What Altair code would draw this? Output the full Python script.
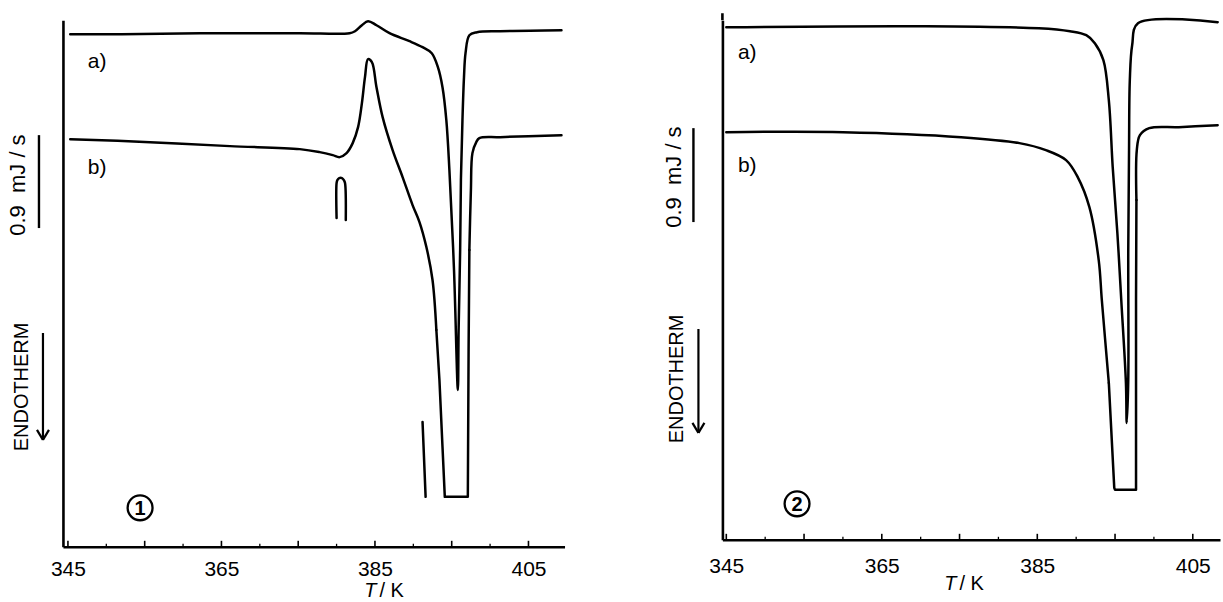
import altair as alt
import pandas as pd

FONT = "Liberation Sans"

# ---------------- Figure 1 (T in K, signal in recorder units; 100 units ~ 0.9 mJ/s) -------------
f1_a_T = [345.3, 352.0, 362.2, 375.2, 381.7, 382.4, 383.3, 384.1, 385.2, 386.9,
          389.5, 391.2, 392.4, 393.2, 393.8, 394.3, 394.7, 395.3, 395.8, 395.9,
          396.1, 396.2, 396.4, 396.6, 396.8, 397.3, 398.3, 401.3, 409.3]
f1_a_V = [513, 513, 514, 514, 514, 516, 522, 526, 522, 514,
          506, 500, 494, 480, 460, 427, 377, 277, 157, 217,
          297, 367, 427, 470, 494, 512, 515, 516, 517]
f1_b_T = [345.3, 355.7, 366.1, 375.2, 377.8, 379.5, 380.4, 381.3, 382.1, 382.8,
          383.3, 383.7, 384.1, 384.6, 385.2, 386.0, 387.3, 388.6, 389.9, 390.8,
          391.7, 392.5, 393.0, 393.4, 393.8, 394.1, 397.1, 397.2, 397.3, 397.5,
          397.7, 398.2, 398.6, 401.3, 409.3]
f1_b_V = [408, 405, 401, 398, 395, 392, 390, 394, 404, 420,
          444, 470, 488, 485, 460, 430, 397, 370, 342, 325,
          300, 267, 217, 167, 100, 50, 50, 197, 297, 357,
          394, 405, 409, 410, 412]
# onset marker (inverted U) and vertical marker
f1_m1_T = [380.0, 380.0, 380.1, 380.35, 380.7, 380.95, 381.1, 381.2]
f1_m1_V = [329, 364, 367, 369, 369, 367, 364, 327]
f1_m2_T = [391.2, 391.6]
f1_m2_V = [125, 50]

# ---------------- Figure 2 ----------------
f2_a_T = [345.0, 370.1, 385.2, 389.2, 391.3, 392.4, 393.5, 394.2, 394.7, 395.3,
          395.8, 396.4, 396.5, 396.7, 396.7, 396.8, 396.9, 397.2, 397.95, 408.2]
f2_a_V = [513, 514, 512, 509, 505, 497, 480, 440, 373, 307,
          240, 157, 117, 160, 290, 390, 460, 495, 517, 518]
f2_b_T = [345.0, 360.0, 375.2, 382.7, 386.1, 388.7, 390.2, 391.7, 392.9, 393.3,
          394.2, 394.9, 395.0, 397.7, 397.7, 397.75, 397.8, 398.2, 399.4, 403.2,
          408.2]
f2_b_V = [408, 408, 403, 397, 390, 380, 363, 333, 280, 240,
          157, 52, 50, 50, 240, 340, 390, 405, 412, 413,
          415]

tick_major = [345, 355, 365, 375, 385, 395, 405]
tick_minor = [350, 360, 370, 380, 390, 400]
tick_labels = [345, 365, 385, 405]
trace_labels = ["a)", "b)"]
scale_label = "0.9\u00a0\u00a0mJ / s"
endo_label = "ENDOTHERM"


def split_df(traces):
    """traces: (name, T, V, (i0, i1) or None) -> smooth and straight (off-scale trough) pieces."""
    smooth, straight = [], []
    for name, T, V, lin in traces:
        n = len(T)
        if lin is None:
            pieces = [("s", 0, n - 1)]
        else:
            i0, i1 = lin
            pieces = [("s", 0, i0), ("l", i0, i1), ("s", i1, n - 1)]
        for k, (kind, a, b) in enumerate(pieces):
            for i in range(a, b + 1):
                row = {"piece": f"{name}-{k}", "T": T[i], "V": V[i], "i": i}
                (smooth if kind == "s" else straight).append(row)
    return pd.DataFrame(smooth), pd.DataFrame(straight)


def panel(traces, xdom, ydom, W, H, lab_T, lab_V, num_text, num_T, num_V,
          title_T, lab_pad, side, anchor=False, top_ext=0):
    xs = alt.Scale(domain=xdom, nice=False, zero=False)
    ys = alt.Scale(domain=ydom, nice=False, zero=False)
    X = alt.X("T:Q", scale=xs, axis=alt.Axis(values=tick_labels, ticks=False, grid=False, title=None,
                                             labelFontSize=21, labelFont=FONT, labelColor="black",
                                             labelPadding=lab_pad, labelFlush=False, labelOverlap=False,
                                             domainColor="black", domainWidth=2.6, format="d"))
    Y = alt.Y("V:Q", scale=ys, axis=alt.Axis(domain=True, ticks=False, labels=False, grid=False,
                                             title=None, domainColor="black", domainWidth=2.6))
    sm, st = split_df(traces)
    lines_s = alt.Chart(sm).mark_line(color="black", strokeWidth=2.5, strokeCap="round",
                                      interpolate="catmull-rom").encode(
        x=X, y=Y, detail="piece:N", order="i:Q")
    layers = [lines_s]
    if len(st):
        layers.append(alt.Chart(st).mark_line(color="black", strokeWidth=2.5, strokeCap="round",
                                              strokeJoin="round").encode(
            x="T:Q", y="V:Q", detail="piece:N", order="i:Q"))
    tmaj = alt.Chart(pd.DataFrame({"T": tick_major})).mark_rule(color="black", strokeWidth=1.6).encode(
        x="T:Q", y=alt.value(H), y2=alt.value(H - 6))
    tmin = alt.Chart(pd.DataFrame({"T": tick_minor})).mark_rule(color="black", strokeWidth=1.3).encode(
        x="T:Q", y=alt.value(H), y2=alt.value(H - 3))
    labs = alt.Chart(pd.DataFrame({"T": lab_T, "V": lab_V, "t": trace_labels})).mark_text(
        font=FONT, fontSize=21, color="black").encode(x="T:Q", y="V:Q", text="t:N")
    circ = alt.Chart(pd.DataFrame({"T": [num_T], "V": [num_V]})).mark_point(
        shape="circle", size=620, color="black", strokeWidth=2.3, filled=False, opacity=1).encode(
        x="T:Q", y="V:Q")
    num = alt.Chart(pd.DataFrame({"T": [num_T], "V": [num_V], "t": [num_text]})).mark_text(
        font=FONT, fontSize=20, fontWeight="bold", color="black", dy=1).encode(x="T:Q", y="V:Q", text="t:N")
    ttl_T = alt.Chart(pd.DataFrame({"T": [title_T], "t": ["T"]})).mark_text(
        font=FONT, fontSize=20, fontStyle="italic", align="right", color="black").encode(
        x="T:Q", y=alt.value(H + 44), text="t:N")
    ttl_K = alt.Chart(pd.DataFrame({"T": [title_T], "t": ["/ K"]})).mark_text(
        font=FONT, fontSize=20, align="left", dx=3, color="black").encode(
        x="T:Q", y=alt.value(H + 44), text="t:N")
    sx, sy, ex, ey, bx, by0, by1, ax, ay0, ay1 = side
    side_txt = alt.Chart(pd.DataFrame({"t": [scale_label]})).mark_text(
        font=FONT, fontSize=22, angle=270, color="black").encode(
        x=alt.value(sx), y=alt.value(sy), text="t:N")
    endo_txt = alt.Chart(pd.DataFrame({"t": [endo_label]})).mark_text(
        font=FONT, fontSize=20, angle=270, color="black").encode(
        x=alt.value(ex), y=alt.value(ey), text="t:N")
    bar = alt.Chart(pd.DataFrame({"k": [0]})).mark_rule(color="black", strokeWidth=2.4).encode(
        x=alt.value(bx), y=alt.value(by0), y2=alt.value(by1))
    arr = alt.Chart(pd.DataFrame({"k": [0]})).mark_rule(color="black", strokeWidth=2.2).encode(
        x=alt.value(ax), y=alt.value(ay0), y2=alt.value(ay1))
    arr_l = alt.Chart(pd.DataFrame({"k": [0]})).mark_rule(color="black", strokeWidth=2.2).encode(
        x=alt.value(ax - 6), x2=alt.value(ax), y=alt.value(ay1 - 10), y2=alt.value(ay1))
    arr_r = alt.Chart(pd.DataFrame({"k": [0]})).mark_rule(color="black", strokeWidth=2.2).encode(
        x=alt.value(ax + 6), x2=alt.value(ax), y=alt.value(ay1 - 10), y2=alt.value(ay1))
    layers += [tmaj, tmin, labs, circ, num, ttl_T, ttl_K, side_txt, endo_txt, bar, arr, arr_l, arr_r]
    if top_ext:
        layers.append(alt.Chart(pd.DataFrame({"k": [0]})).mark_rule(color="black", strokeWidth=2.6).encode(
            x=alt.value(0), y=alt.value(-top_ext), y2=alt.value(0)))
    if anchor:
        layers.append(alt.Chart(pd.DataFrame({"k": [0]})).mark_rule(strokeOpacity=0).encode(
            x=alt.value(-63), x2=alt.value(-63), y=alt.value(-20), y2=alt.value(-19)))
    return alt.layer(*layers).properties(width=W, height=H)


p1 = panel([("a", f1_a_T, f1_a_V, None), ("b", f1_b_T, f1_b_V, (22, 28)),
            ("m1", f1_m1_T, f1_m1_V, None), ("m2", f1_m2_T, f1_m2_V, None)],
           [344.35, 409.7], [0, 527], 502, 527,
           [348.8, 348.8], [485, 379], "1", 354.4, 39, 385.2, 12,
           (-45, 165, -41, 367, -24, 115, 208, -20, 313, 420), anchor=True)
p2 = panel([("a", f2_a_T, f2_a_V, None), ("b", f2_b_T, f2_b_V, (10, 15))],
           [344.5, 408.5], [0, 520], 498, 520,
           [347.7, 347.7], [487, 374], "2", 354.1, 36, 374.6, 16,
           (-48, 157, -45, 359, -29, 108, 202, -24, 309, 413), top_ext=7)

chart = alt.hconcat(p1, p2, spacing=158, bounds="flush").properties(padding=0).configure_view(stroke=None)

chart.save("out.html", embed_options={"renderer": "svg", "actions": False})
